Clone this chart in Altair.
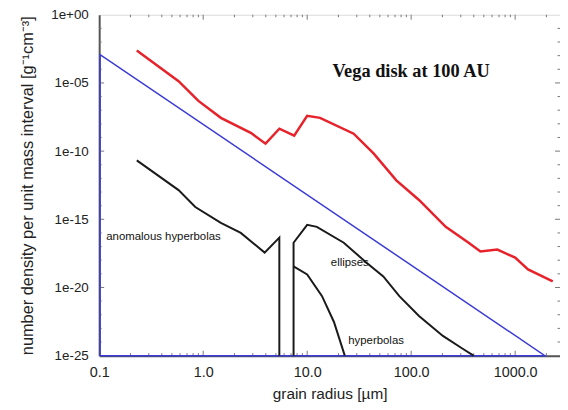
import altair as alt
import pandas as pd

# ---- data ----
red_x = [0.23, 0.58, 0.90, 1.48, 2.87, 3.98, 5.41, 7.5, 10.0, 13.3, 28.0, 43.5,
         72.0, 119.0, 215.0, 357.0, 464.0, 674.0, 1000.0, 1330.0, 2300.0]
red_y = [2.4e-3, 1.35e-5, 4.8e-7, 2.75e-8, 2.2e-9, 3.5e-10, 4.4e-9, 1.35e-9, 3.9e-8,
         2.75e-8, 1.9e-9, 6.8e-11, 7.2e-13, 2.6e-14, 2.8e-16, 1.9e-17, 4.3e-18,
         6.0e-18, 1.55e-18, 2.1e-19, 2.8e-20]

blue_x = [0.102, 0.102, 1930.0, 0.102]
blue_y = [1e-25, 1.2e-3, 1e-25, 1e-25]

anom_x = [0.23, 0.58, 0.84, 1.48, 2.3, 3.9, 5.4, 5.4]
anom_y = [2.1e-11, 1.38e-13, 7.9e-15, 5.5e-16, 1.0e-16, 3.6e-18, 4.5e-17, 1e-25]

ell_x = [7.4, 7.4, 10.0, 12.4, 22.5, 37.0, 54.0, 77.0, 119.0, 202.0, 313.0, 398.0]
ell_y = [1e-25, 1.9e-17, 3.9e-16, 2.8e-16, 1.9e-17, 6.8e-19, 6.5e-20, 2.3e-21,
         8.1e-23, 2.8e-24, 3.2e-25, 1e-25]

hyp_x = [7.4, 10.0, 13.9, 18.1, 23.0]
hyp_y = [3.5e-19, 9.1e-20, 2.3e-21, 2.95e-23, 1e-25]

x_ticks = [0.1, 1, 10, 100, 1000]
y_ticks = [1, 1e-5, 1e-10, 1e-15, 1e-20, 1e-25]
x_minor = [m * d for d in [0.1, 1, 10, 100, 1000] for m in range(2, 10) if m * d < 2700]
x_major = [1, 10, 100, 1000]
y_minor = [10.0 ** (-k) for k in range(1, 25) if k % 5 != 0]
y_major = [1e-5, 1e-10, 1e-15, 1e-20]

title_txt = ["Vega disk at 100 AU"]
title_pos = ([100.0], [7e-5])
lab_txt = ["anomalous hyperbolas", "ellipses", "hyperbolas"]
lab_x = [0.117, 25.7, 46.0]
lab_y = [5e-17, 6e-19, 1.25e-24]
lab_align = ["left", "center", "center"]

# ---- build tables ----
def series(xs, ys, name):
    return pd.DataFrame({"x": xs, "y": ys, "s": name, "o": list(range(len(xs)))})

black = pd.concat([series(anom_x, anom_y, "anom"),
                   series(ell_x, ell_y, "ell"),
                   series(hyp_x, hyp_y, "hyp")])

XD = [0.1, 2700]
YD = [1e-25, 1]
xs = alt.Scale(type="log", domain=XD, nice=False)
ys = alt.Scale(type="log", domain=YD, nice=False)

xaxis = alt.Axis(values=x_ticks, format=".1f", title="grain radius [µm]",
                 grid=False, ticks=False, labelFontSize=14.5, titleFontSize=15.5,
                 labelPadding=10, titlePadding=8, labelFont="Liberation Sans",
                 titleFont="Liberation Sans", titleFontWeight="normal",
                 domainColor="#555", domainWidth=2, labelColor="#222", titleColor="#222",
                 labelFlush=False)
yaxis = alt.Axis(values=y_ticks,
                 labelExpr="'1e' + (datum.value >= 1 ? '+' : '-') + (abs(round(log(datum.value)/LN10)) < 10 ? '0' : '') + abs(round(log(datum.value)/LN10))",
                 title="number density per unit mass interval [g⁻¹cm⁻³]",
                 grid=False, ticks=False, labelFontSize=13.5, titleFontSize=16.5,
                 labelPadding=11, titlePadding=15, labelFont="Liberation Sans",
                 titleFont="Liberation Sans", titleFontWeight="normal",
                 domainColor="#555", domainWidth=2, labelColor="#222", titleColor="#222",
                 labelFlush=False)

X = alt.X("x:Q", scale=xs, axis=xaxis)
Y = alt.Y("y:Q", scale=ys, axis=yaxis)

blue = alt.Chart(series(blue_x, blue_y, "blue")).mark_line(
    color="#3a3ad8", strokeWidth=1.5, clip=False).encode(x=X, y=Y, order="o:Q")
red = alt.Chart(series(red_x, red_y, "red")).mark_line(
    color="#e8222a", strokeWidth=2.5).encode(x=X, y=Y, order="o:Q")
blk = alt.Chart(black).mark_line(color="#1a1a1a", strokeWidth=2).encode(
    x=X, y=Y, detail="s:N", order="o:Q")

ttl = alt.Chart(pd.DataFrame({"x": title_pos[0], "y": title_pos[1], "t": title_txt})).mark_text(
    font="Liberation Serif", fontWeight="bold", fontSize=18.5, color="#111", align="center",
    baseline="middle").encode(x=X, y=Y, text="t:N")

labs = []
for t, lx, ly, al in zip(lab_txt, lab_x, lab_y, lab_align):
    labs.append(alt.Chart(pd.DataFrame({"x": [lx], "y": [ly], "t": [t]})).mark_text(
        font="Liberation Sans", fontSize=11.5, color="#111", align=al, baseline="middle"
        ).encode(x=X, y=Y, text="t:N"))

H = 344
tick_col = "#777"
def xticks(vals, ln):
    df = pd.DataFrame({"x": vals})
    top = alt.Chart(df).mark_rule(color=tick_col, strokeWidth=1).encode(
        x=X, y=alt.value(0), y2=alt.value(ln))
    bot = alt.Chart(df).mark_rule(color=tick_col, strokeWidth=1).encode(
        x=X, y=alt.value(H), y2=alt.value(H - ln))
    return [top, bot]

def yticks(vals, ln):
    df = pd.DataFrame({"y": vals})
    left = alt.Chart(df).mark_rule(color=tick_col, strokeWidth=1).encode(
        y=Y, x=alt.value(0), x2=alt.value(ln))
    right = alt.Chart(df).mark_rule(color=tick_col, strokeWidth=1).encode(
        y=Y, x=alt.value(465), x2=alt.value(465 - ln))
    return [left, right]

tick_layers = xticks(x_minor, 2.5) + xticks(x_major, 5) + yticks(y_minor, 2.5) + yticks(y_major, 5)

chart = alt.layer(*tick_layers, blue, red, blk, ttl, *labs).properties(
    width=465, height=344,
    autosize=alt.AutoSizeParams(type="none"),
    padding={"left": 92, "top": 5, "right": 0, "bottom": 50},
).configure_view(stroke="#666", strokeWidth=1.5).configure(background="white")

chart.save("out.html", embed_options={"renderer": "svg", "actions": False})
